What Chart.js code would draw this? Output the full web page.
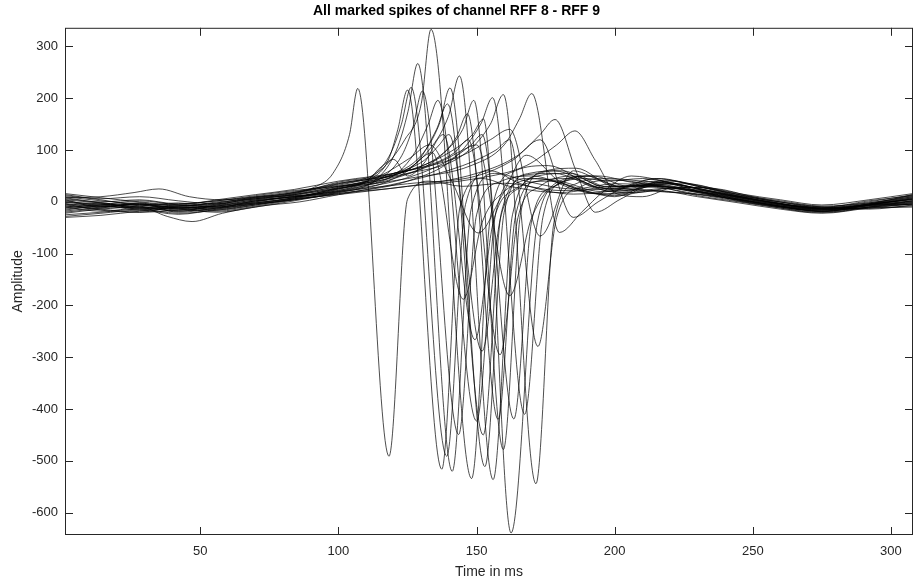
<!DOCTYPE html>
<html>
<head>
<meta charset="utf-8">
<script src="https://cdn.jsdelivr.net/npm/chart.js@4.4.1/dist/chart.umd.min.js"></script>
<style>
  html, body { margin: 0; padding: 0; background: #fff; }
  #wrap { width: 914px; height: 584px; }
</style>
</head>
<body>
<div id="wrap"><canvas id="c" width="914" height="584"></canvas></div>
<script>
// axis ranges and tick labels (MATLAB style, tight axis)
const xRange = [1, 308];
const yRange = [-643, 336];
const xTicks = [50, 100, 150, 200, 250, 300];
const yTicks = [-600, -500, -400, -300, -200, -100, 0, 100, 200, 300];

// one array per marked spike: [time in ms, amplitude]
const spike01 = [[1,-3],[14,-9],[28,-5],[42,-14],[56,-4],[70,6],[84,18],[92,30],[98,55],[104,130],[107,219],[118.3,-491],[125,5],[133,40],[145,30],[160,36],[180,22],[200,26],[215,34],[230,20],[245,8],[260,-6],[275,-14],[292,-5],[308,5]];
const spike02 = [[1,8],[14,-2],[28,-12],[42,-6],[56,-10],[70,2],[84,10],[100,22],[112,45],[118,80],[121.5,140],[125,216],[137.4,-516],[144,-10],[152,45],[162,30],[180,18],[200,30],[215,28],[230,15],[245,4],[260,-10],[275,-18],[292,-8],[308,-2]];
const spike03 = [[1,-12],[14,-6],[28,-16],[42,-10],[56,-14],[70,-4],[84,8],[100,28],[113,52],[119,95],[122.8,150],[126.3,221],[139.2,-491],[146,-5],[155,60],[166,35],[185,15],[200,22],[215,40],[230,25],[245,10],[260,-4],[275,-12],[292,-2],[308,10]];
const spike04 = [[1,12],[14,4],[28,-8],[42,-18],[56,-6],[70,8],[84,12],[100,18],[114,45],[121,100],[125.2,175],[128.7,267],[141.2,-520],[148,-15],[157,55],[168,40],[185,25],[200,35],[215,30],[230,12],[245,0],[260,-12],[275,-20],[292,-10],[308,2]];
const spike05 = [[1,-20],[14,-12],[28,-4],[42,-12],[56,-18],[70,-8],[84,4],[100,20],[116,48],[123,90],[127,145],[130.4,214],[143.5,-449],[150,-25],[159,40],[170,50],[188,20],[200,15],[215,25],[230,28],[245,12],[260,0],[275,-10],[292,-14],[308,-6]];
const spike06 = [[1,4],[14,-10],[28,-2],[42,-20],[56,-12],[70,0],[84,14],[100,30],[115,45],[125,62],[134,95],[145.2,-188],[152,-40],[160,20],[172,45],[190,20],[200,10],[215,38],[230,22],[245,6],[260,-8],[275,-16],[292,-4],[308,8]];
const spike07 = [[1,0],[14,-4],[28,-10],[42,-8],[56,-2],[70,10],[84,20],[100,35],[115,60],[124,120],[130,190],[133.5,333],[148.2,-534],[155,-30],[164,60],[176,70],[192,30],[200,25],[215,45],[230,30],[245,14],[260,2],[275,-8],[292,-2],[308,12]];
const spike08 = [[1,-25],[14,-20],[28,-14],[42,-22],[56,-16],[70,-6],[84,6],[100,25],[110,40],[116,70],[120,82],[125,50],[131,75],[138,130],[149.4,-266],[156,-40],[164,25],[176,40],[192,18],[200,12],[215,22],[230,10],[245,-2],[260,-14],[275,-22],[292,-12],[308,-4]];
const spike09 = [[1,6],[14,0],[28,4],[42,-4],[56,2],[70,12],[84,22],[100,30],[118,45],[127,90],[132.5,150],[136,196],[150,-423],[157,-20],[166,50],[178,55],[194,25],[200,20],[215,30],[230,20],[245,10],[260,-4],[275,-10],[292,0],[308,14]];
const spike10 = [[1,-8],[14,-14],[28,-20],[42,-16],[56,-8],[70,4],[84,10],[100,24],[115,50],[126,85],[133,110],[141,40],[150.6,-60],[159,10],[168,90],[180,40],[195,15],[205,20],[218,35],[232,18],[245,2],[260,-10],[275,-18],[292,-10],[308,-4]];
const spike11 = [[1,14],[14,6],[28,10],[42,2],[56,-4],[70,4],[84,16],[100,38],[120,55],[131,80],[136.5,110],[140,130],[152,-288],[158.5,-35],[166,30],[178,60],[194,28],[205,22],[218,42],[232,30],[245,16],[260,4],[275,-6],[292,4],[308,16]];
const spike12 = [[1,-16],[14,-8],[28,-12],[42,-14],[56,-20],[70,-10],[84,2],[100,18],[118,40],[129,80],[135.5,140],[139.5,189],[152.4,-450],[159,-20],[168,45],[180,40],[195,20],[205,25],[218,20],[232,14],[245,4],[260,-8],[275,-14],[292,-8],[308,0]];
const spike13 = [[1,-6],[14,-12],[28,-8],[42,-2],[56,-10],[70,2],[84,10],[100,26],[118,50],[130,90],[136.5,150],[140.4,220],[153,-511],[160,-20],[169,55],[181,60],[196,30],[205,30],[218,36],[232,24],[245,8],[260,-6],[275,-16],[292,-6],[308,6]];
const spike14 = [[1,10],[14,2],[28,-4],[42,-10],[56,0],[70,6],[84,14],[100,30],[120,50],[132,95],[139.8,165],[143.8,243],[156,-536],[163,-25],[172,50],[184,55],[198,28],[208,32],[220,30],[234,16],[248,2],[262,-10],[276,-18],[292,-6],[308,8]];
const spike15 = [[1,-28],[14,-22],[28,-16],[42,-24],[56,-14],[70,-2],[84,8],[100,22],[120,45],[135,80],[142.7,125],[146.7,170],[157.8,-420],[164,-30],[172,40],[184,45],[198,20],[208,18],[220,26],[234,20],[248,6],[262,-6],[276,-14],[292,-12],[308,-8]];
const spike16 = [[1,2],[14,-6],[28,-2],[42,-8],[56,-2],[70,8],[84,18],[100,32],[120,55],[135,75],[142,95],[147,120],[158.5,-295],[165,-30],[173,30],[185,50],[198,25],[208,28],[220,40],[234,26],[248,10],[262,-2],[276,-10],[292,2],[308,12]];
const spike17 = [[1,-10],[14,-4],[28,-10],[42,-12],[56,-6],[70,0],[84,12],[100,28],[122,55],[137,90],[145,140],[149,196],[159.7,-478],[166,-20],[175,60],[186,65],[200,30],[212,32],[224,24],[238,10],[250,-2],[264,-12],[278,-20],[292,-10],[308,-2]];
const spike18 = [[1,-18],[14,-10],[28,-6],[42,-16],[56,-10],[70,-2],[84,8],[100,26],[122,50],[138,80],[145,100],[150,110],[162,-181],[170,-30],[180,40],[192,50],[205,30],[218,38],[232,22],[246,6],[260,-6],[275,-12],[292,-4],[308,4]];
const spike19 = [[1,4],[14,-2],[28,-6],[42,-4],[56,2],[70,10],[84,16],[100,34],[124,58],[140,95],[148.5,130],[152.5,160],[162.5,-639],[172,-40],[180,35],[190,50],[202,30],[215,30],[228,20],[242,6],[256,-6],[270,-16],[286,-10],[300,0],[308,6]];
const spike20 = [[1,-4],[14,-16],[28,-20],[42,-10],[56,-16],[70,-6],[84,6],[100,20],[124,45],[140,80],[148,110],[152,130],[163.5,-419],[170,-35],[178,30],[190,45],[204,25],[216,20],[230,14],[244,2],[258,-10],[272,-20],[288,-12],[308,-4]];
const spike21 = [[1,-14],[14,-6],[28,2],[42,-6],[56,-12],[70,-4],[84,4],[100,16],[125,40],[142,85],[151.5,150],[155.8,201],[167.4,-410],[174,-30],[182,40],[194,50],[206,38],[218,30],[232,18],[246,4],[260,-8],[274,-18],[290,-8],[308,2]];
const spike22 = [[1,8],[14,10],[26,18],[35,25],[46,10],[58,4],[72,10],[86,20],[100,36],[125,55],[145,90],[155,150],[159.7,207],[171.5,-544],[178,-40],[186,35],[198,45],[210,40],[222,34],[236,20],[250,6],[264,-6],[278,-14],[292,-4],[308,10]];
const spike23 = [[1,-22],[14,-14],[28,-10],[38,-28],[47,-38],[58,-22],[72,-8],[86,0],[100,14],[125,40],[145,70],[157,100],[162,120],[172.2,-279],[179,-30],[188,30],[200,42],[212,35],[225,25],[240,10],[255,-4],[270,-14],[285,-10],[300,-2],[308,2]];
const spike24 = [[1,16],[14,8],[28,0],[42,-6],[56,4],[70,14],[84,24],[100,40],[125,60],[145,90],[155,120],[162,140],[173,-66],[185,60],[197,40],[210,45],[224,32],[238,18],[252,4],[266,-8],[280,-12],[294,-2],[308,14]];
const spike25 = [[1,-6],[14,-2],[28,-14],[42,-8],[56,-4],[70,6],[84,14],[100,26],[125,45],[148,70],[160,110],[165.5,160],[170,209],[180,-59],[188,-20],[196,20],[206,50],[218,40],[232,22],[246,8],[260,-4],[274,-14],[290,-6],[308,6]];
const spike26 = [[1,0],[14,-8],[28,-4],[42,-12],[56,-8],[70,2],[84,10],[100,20],[125,35],[150,50],[163,80],[173,120],[185,-30],[194,0],[204,30],[216,45],[230,30],[244,12],[258,-2],[272,-12],[288,-8],[308,0]];
const spike27 = [[1,-10],[14,-18],[28,-12],[42,-18],[56,-12],[70,-4],[84,4],[100,16],[125,30],[150,55],[165,90],[173,130],[178.4,159],[186,60],[193,-20],[202,5],[212,30],[226,35],[240,20],[254,4],[268,-10],[282,-14],[296,-4],[308,-6]];
const spike28 = [[1,-30],[14,-26],[28,-18],[42,-12],[56,-8],[70,-2],[84,6],[100,14],[125,30],[150,45],[168,70],[179,110],[185.6,137],[193,80],[201,15],[210,10],[222,28],[236,26],[250,10],[264,-4],[278,-14],[292,-12],[308,-10]];

const spikes = [spike01, spike02, spike03, spike04, spike05, spike06, spike07,
  spike08, spike09, spike10, spike11, spike12, spike13, spike14, spike15,
  spike16, spike17, spike18, spike19, spike20, spike21, spike22, spike23,
  spike24, spike25, spike26, spike27, spike28];

const FONT = "'Liberation Sans', Arial, Helvetica, sans-serif";
const AXIS_COLOR = '#262626';

// MATLAB like box with inward ticks on all four sides
const axesBox = {
  id: 'axesBox',
  afterDatasetsDraw(chart) {
    const { ctx, chartArea: a, scales: { x, y } } = chart;
    const len = 8;
    ctx.save();
    ctx.strokeStyle = AXIS_COLOR;
    ctx.lineWidth = 1;
    ctx.strokeRect(a.left + 0.5, a.top + 0.5, a.right - a.left - 1, a.bottom - a.top - 1);
    ctx.beginPath();
    xTicks.forEach(v => {
      const px = Math.round(x.getPixelForValue(v)) + 0.5;
      ctx.moveTo(px, a.bottom); ctx.lineTo(px, a.bottom - len);
      ctx.moveTo(px, a.top); ctx.lineTo(px, a.top + len);
    });
    yTicks.forEach(v => {
      const py = Math.round(y.getPixelForValue(v)) + 0.5;
      ctx.moveTo(a.left, py); ctx.lineTo(a.left + len, py);
      ctx.moveTo(a.right, py); ctx.lineTo(a.right - len, py);
    });
    ctx.stroke();
    ctx.restore();
  }
};

new Chart(document.getElementById('c'), {
  type: 'line',
  data: {
    datasets: spikes.map((s, i) => ({
      label: 'spike ' + (i + 1),
      data: s.map(p => ({ x: p[0], y: p[1] })),
      borderColor: 'rgba(0,0,0,0.88)',
      borderWidth: 0.8,
      pointRadius: 0,
      fill: false,
      cubicInterpolationMode: 'monotone'
    }))
  },
  options: {
    responsive: false,
    animation: false,
    events: [],
    layout: { padding: { left: 0, right: 1, top: 0, bottom: 0 } },
    scales: {
      x: {
        type: 'linear',
        min: xRange[0],
        max: xRange[1],
        grid: { display: false, drawTicks: false },
        border: { display: false },
        afterBuildTicks: s => { s.ticks = xTicks.map(v => ({ value: v })); },
        afterFit: s => { s.height = 49; },
        ticks: { color: AXIS_COLOR, padding: 9, maxRotation: 0, font: { family: FONT, size: 13 } },
        title: { display: true, text: 'Time in ms', color: AXIS_COLOR,
          padding: { top: 0, bottom: 3 }, font: { family: FONT, size: 14 } }
      },
      y: {
        type: 'linear',
        min: yRange[0],
        max: yRange[1],
        grid: { display: false, drawTicks: false },
        border: { display: false },
        afterBuildTicks: s => { s.ticks = yTicks.map(v => ({ value: v })); },
        afterFit: s => { s.width = 65; },
        ticks: { color: AXIS_COLOR, padding: 7, font: { family: FONT, size: 13 } },
        title: { display: true, text: 'Amplitude', color: AXIS_COLOR,
          padding: { top: 10, bottom: 0 }, font: { family: FONT, size: 14 } }
      }
    },
    plugins: {
      legend: { display: false },
      tooltip: { enabled: false },
      title: {
        display: true,
        text: 'All marked spikes of channel RFF 8 - RFF 9',
        color: '#000',
        padding: { top: 3, bottom: 8 },
        font: { family: FONT, size: 14, weight: 'bold' }
      }
    }
  },
  plugins: [axesBox]
});
</script>
</body>
</html>
